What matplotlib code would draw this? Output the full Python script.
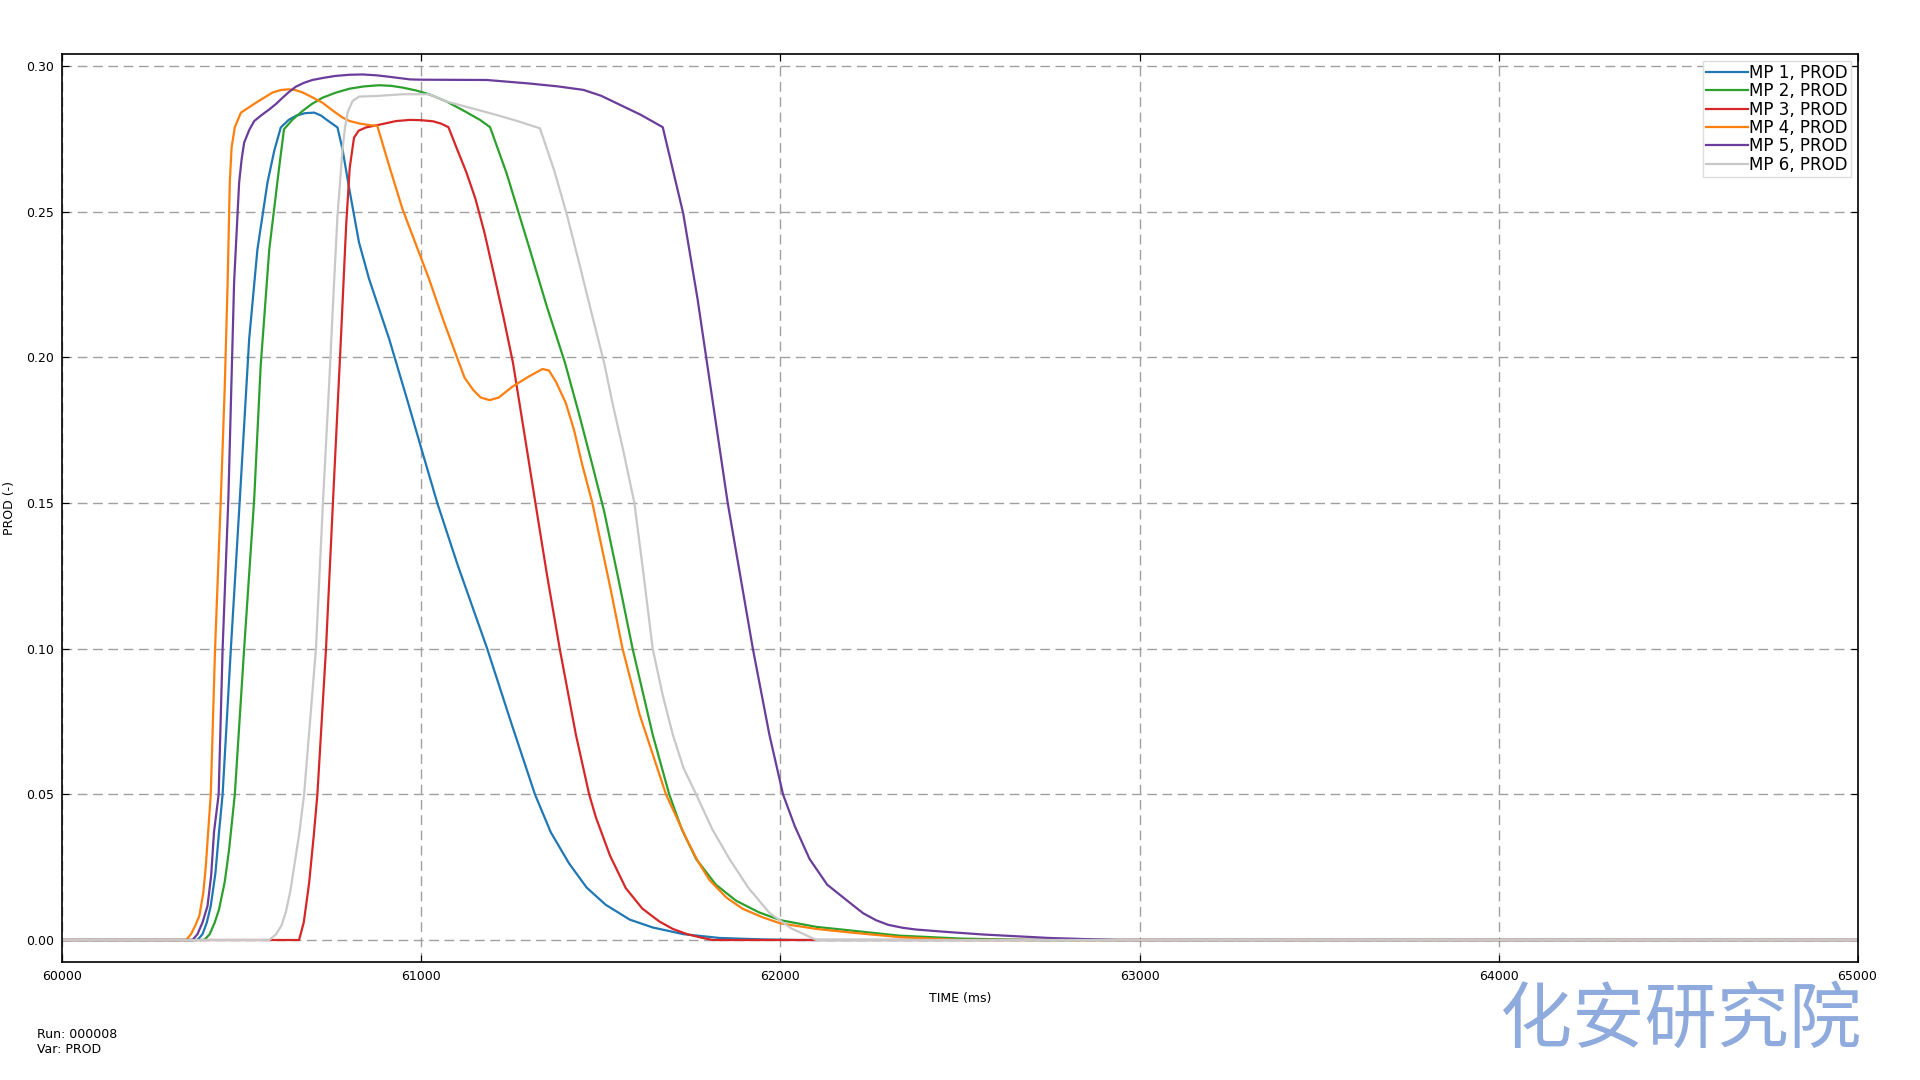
import numpy as np
import matplotlib
matplotlib.use("Agg")
import matplotlib.pyplot as plt

# time (ms) / PROD (-)
t1 = [60000, 60376, 60390, 60402, 60413, 60426, 60436, 60446, 60469, 60494, 60520, 60543, 60571,
      60590, 60608, 60630, 60650, 60675, 60701, 60720, 60734, 60750, 60766, 60780, 60799, 60826,
      60854, 60910, 60966, 61000, 61044, 61100, 61183, 61250, 61316, 61360, 61411, 61460, 61513,
      61580, 61644, 61730, 61830, 61950, 62050, 65000]
v1 = [0, 0, 0.002, 0.006, 0.0117, 0.023, 0.037, 0.05, 0.10, 0.1514, 0.2063, 0.2371, 0.26,
      0.271, 0.2789, 0.2815, 0.2829, 0.2838, 0.284, 0.283, 0.2817, 0.2803, 0.2789, 0.2714, 0.2577, 0.2394,
      0.2269, 0.2063, 0.183, 0.1685, 0.15, 0.129, 0.10, 0.0745, 0.05, 0.037, 0.0263, 0.018, 0.0121,
      0.007, 0.0043, 0.002, 0.0007, 0.0002, 0, 0]

t2 = [60000, 60395, 60410, 60424, 60436, 60452, 60464, 60480, 60506, 60534, 60552, 60576, 60604,
      60617, 60640, 60669, 60695, 60724, 60760, 60799, 60840, 60882, 60915, 60947, 60985, 61021,
      61070, 61120, 61163, 61191, 61237, 61302, 61349, 61400, 61440, 61476, 61509, 61550, 61588,
      61644, 61690, 61725, 61765, 61820, 61876, 61940, 62000, 62100, 62193, 62330, 62500, 62700, 65000]
v2 = [0, 0, 0.002, 0.006, 0.0105, 0.02, 0.031, 0.05, 0.10, 0.1514, 0.197, 0.2371, 0.2657,
      0.2783, 0.2815, 0.2846, 0.287, 0.2891, 0.2908, 0.2922, 0.293, 0.2934, 0.2932, 0.2926, 0.2916, 0.2903,
      0.2878, 0.2845, 0.2815, 0.279, 0.2632, 0.2369, 0.2175, 0.198, 0.18, 0.163, 0.147, 0.123, 0.10,
      0.0705, 0.05, 0.038, 0.0278, 0.019, 0.0135, 0.0095, 0.0068, 0.0045, 0.0033, 0.0015, 0.0005, 0, 0]

t3 = [60000, 60659, 60672, 60687, 60700, 60710, 60734, 60754, 60775, 60790, 60800, 60812, 60825,
      60845, 60877, 60929, 60968, 61000, 61033, 61055, 61075, 61098, 61125, 61150, 61175, 61200,
      61228, 61255, 61285, 61316, 61350, 61385, 61430, 61467, 61486, 61525, 61569, 61615, 61662,
      61700, 61740, 61780, 61811, 65000]
v3 = [0, 0, 0.006, 0.0196, 0.036, 0.05, 0.10, 0.152, 0.205, 0.245, 0.265, 0.2754, 0.2778,
      0.2789, 0.2797, 0.2811, 0.2815, 0.2814, 0.281, 0.2802, 0.279, 0.2718, 0.2635, 0.2545, 0.243, 0.2295,
      0.214, 0.198, 0.175, 0.151, 0.125, 0.10, 0.0705, 0.05, 0.042, 0.029, 0.0178, 0.0108, 0.0064,
      0.0038, 0.002, 0.0008, 0, 0]

t4 = [60000, 60344, 60358, 60370, 60381, 60392, 60399, 60413, 60425, 60441, 60452, 60460, 60466,
      60471, 60480, 60497, 60539, 60585, 60610, 60631, 60650, 60669, 60700, 60724, 60755, 60780,
      60800, 60826, 60850, 60877, 60910, 60947, 61021, 61060, 61098, 61120, 61144, 61165, 61190,
      61215, 61254, 61300, 61337, 61355, 61375, 61402, 61425, 61448, 61476, 61527, 61560, 61607,
      61681, 61737, 61770, 61802, 61850, 61895, 61950, 62000, 62100, 62193, 62330, 62500, 65000]
v4 = [0, 0, 0.002, 0.005, 0.0082, 0.016, 0.025, 0.05, 0.10, 0.1514, 0.19, 0.2257, 0.26,
      0.272, 0.279, 0.284, 0.2874, 0.2909, 0.2918, 0.292, 0.2917, 0.2909, 0.289, 0.2874, 0.2845, 0.2823,
      0.2811, 0.2803, 0.2798, 0.2794, 0.2657, 0.2509, 0.2269, 0.213, 0.2003, 0.193, 0.1888, 0.1862, 0.1853,
      0.1862, 0.19, 0.1935, 0.196, 0.1955, 0.1915, 0.1843, 0.175, 0.163, 0.15, 0.1203, 0.10, 0.0776,
      0.05, 0.035, 0.027, 0.0206, 0.0145, 0.0107, 0.0078, 0.0057, 0.0038, 0.0026, 0.001, 0, 0]

t5 = [60000, 60362, 60376, 60390, 60404, 60414, 60422, 60435, 60446, 60462, 60478, 60492, 60499,
      60506, 60520, 60534, 60555, 60576, 60595, 60613, 60630, 60650, 60672, 60696, 60730, 60761,
      60800, 60836, 60875, 60910, 60968, 61000, 61182, 61300, 61380, 61451, 61500, 61544, 61610,
      61672, 61729, 61769, 61793, 61853, 61923, 61969, 62007, 62040, 62081, 62130, 62193, 62230,
      62266, 62300, 62340, 62377, 62460, 62563, 62748, 62934, 65000]
v5 = [0, 0, 0.002, 0.006, 0.0117, 0.022, 0.037, 0.05, 0.10, 0.1514, 0.2257, 0.26, 0.268,
      0.2737, 0.278, 0.2811, 0.2832, 0.2851, 0.287, 0.2891, 0.291, 0.2929, 0.2942, 0.2952, 0.296, 0.2966,
      0.297, 0.2971, 0.2968, 0.2963, 0.2954, 0.2953, 0.2952, 0.294, 0.293, 0.2918, 0.2898, 0.2872, 0.2833,
      0.279, 0.2494, 0.22, 0.20, 0.15, 0.10, 0.0705, 0.05, 0.039, 0.0278, 0.019, 0.0128, 0.0092,
      0.0068, 0.0052, 0.0042, 0.0036, 0.0028, 0.0019, 0.0007, 0, 0]

t6 = [60000, 60576, 60595, 60610, 60622, 60635, 60645, 60660, 60673, 60706, 60726, 60743, 60755,
      60766, 60780, 60787, 60794, 60808, 60826, 60873, 60947, 61021, 61070, 61140, 61209, 61270,
      61330, 61370, 61404, 61440, 61469, 61509, 61532, 61562, 61593, 61618, 61644, 61672, 61700,
      61730, 61765, 61810, 61858, 61910, 61969, 62030, 62100, 65000]
v6 = [0, 0, 0.002, 0.005, 0.0095, 0.017, 0.025, 0.037, 0.05, 0.10, 0.1514, 0.1914, 0.222,
      0.2486, 0.2714, 0.279, 0.284, 0.288, 0.2895, 0.2897, 0.2903, 0.2903, 0.2878, 0.2855, 0.2832, 0.281,
      0.2786, 0.264, 0.2494, 0.232, 0.2175, 0.198, 0.1843, 0.168, 0.15, 0.126, 0.10, 0.084, 0.0705,
      0.059, 0.05, 0.038, 0.0278, 0.018, 0.0093, 0.004, 0, 0]

labels = ["MP 1, PROD", "MP 2, PROD", "MP 3, PROD", "MP 4, PROD", "MP 5, PROD", "MP 6, PROD"]
colors = ["#1f77b4", "#2ca02c", "#d62728", "#ff7f0e", "#6a3d9a", "#c8c8c8"]
times = [t1, t2, t3, t4, t5, t6]
values = [v1, v2, v3, v4, v5, v6]

fig = plt.figure(figsize=(19.2, 10.8), dpi=100)
ax = fig.add_axes([0.03255, 0.10926, 0.9349, 0.84074])

for t, v, lab, c in zip(times, values, labels, colors):
    ax.plot(t, v, color=c, lw=1.6, label=lab, solid_joinstyle="round")

ax.set_xlim(60000, 65000)
ax.set_ylim(-0.00755, 0.30412)
ax.set_xticks(np.arange(60000, 65001, 1000))
ax.set_yticks(np.arange(0, 0.301, 0.05))
ax.yaxis.set_major_formatter(matplotlib.ticker.FormatStrFormatter("%.2f"))
ax.grid(True, color="#a0a0a0", lw=1.0, linestyle=(0, (7, 4)))
ax.tick_params(direction="in", top=True, right=True, length=5, labelsize=9, pad=6)
for s in ax.spines.values():
    s.set_linewidth(1.2)

ax.set_xlabel("TIME (ms)", fontsize=9, labelpad=6)
ax.set_ylabel("PROD (-)", fontsize=9)
ax.yaxis.set_label_coords(-0.026, 0.5)

leg = ax.legend(loc="upper right", fontsize=12, labelspacing=0.02, handlelength=2.5,
                handletextpad=0.05, borderpad=0.2, borderaxespad=0.4, fancybox=False,
                framealpha=1)
leg.get_frame().set_edgecolor("#dddddd")
leg.get_frame().set_linewidth(1.0)

fig.text(0.0195, 0.048, "Run: 000008\nVar: PROD", fontsize=9, va="top", ha="left")
# watermark, nudged a little below the tick labels
fig.text(0.7815, 0.0545, "化安研究院", fontsize=52, color="#8faadc", ha="left", va="center",
         family=["Noto Sans CJK SC", "DejaVu Sans"])

fig.savefig("out.png", dpi=100)
